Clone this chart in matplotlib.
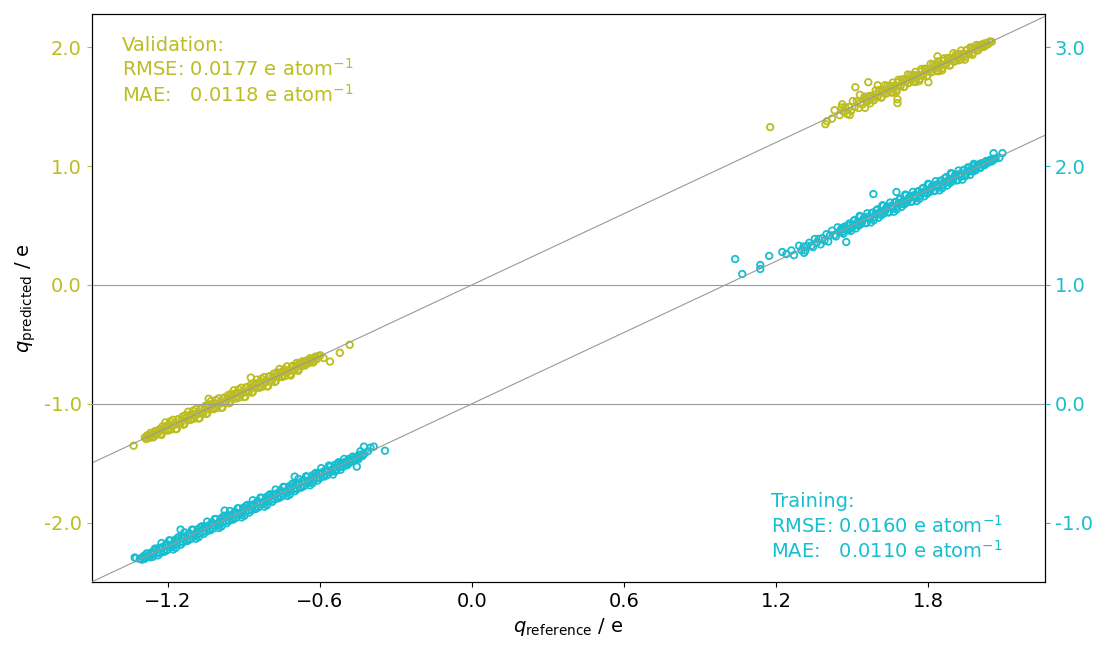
import matplotlib
matplotlib.use("Agg")
import matplotlib.pyplot as plt

OLIVE = '#bcbd22'
CYAN = '#17becf'

# validation set, negative charges (left axis)
val_low_ref = [-1.290, -1.285, -1.280, -1.272, -1.266, -1.258, -1.250, -1.243, -1.236, -1.228,
               -1.220, -1.213, -1.205, -1.198, -1.190, -1.183, -1.175, -1.168, -1.160, -1.152,
               -1.145, -1.138, -1.130, -1.122, -1.115, -1.108, -1.100, -1.092, -1.085, -1.078,
               -1.070, -1.062, -1.055, -1.048, -1.040, -1.032, -1.025, -1.018, -1.010, -1.002,
               -0.995, -0.988, -0.980, -0.972, -0.965, -0.958, -0.950, -0.942, -0.935, -0.928,
               -0.920, -0.912, -0.905, -0.898, -0.890, -0.882, -0.875, -0.868, -0.860, -0.852,
               -0.845, -0.838, -0.830, -0.822, -0.815, -0.808, -0.800, -0.792, -0.785, -0.778,
               -0.770, -0.762, -0.755, -0.748, -0.740, -0.732, -0.725, -0.718, -0.710, -0.702,
               -0.695, -0.688, -0.680, -0.672, -0.665, -0.658, -0.650, -0.642, -0.635, -0.628,
               -0.620, -0.612, -0.605,
               -1.334, -0.598, -0.585, -0.560, -0.521, -0.482, -1.038, -0.872]
val_low_pred = [-1.285, -1.297, -1.265, -1.276, -1.264, -1.283, -1.230, -1.258, -1.225, -1.258,
                -1.190, -1.227, -1.187, -1.225, -1.149, -1.191, -1.172, -1.214, -1.131, -1.171,
                -1.134, -1.176, -1.096, -1.136, -1.097, -1.135, -1.059, -1.100, -1.082, -1.124,
                -1.041, -1.081, -1.044, -1.086, -1.006, -1.046, -1.007, -1.045, -0.969, -1.010,
                -0.992, -1.034, -0.951, -0.991, -0.954, -0.996, -0.916, -0.956, -0.917, -0.955,
                -0.879, -0.920, -0.902, -0.944, -0.861, -0.901, -0.864, -0.906, -0.826, -0.866,
                -0.827, -0.865, -0.789, -0.830, -0.812, -0.854, -0.771, -0.811, -0.774, -0.816,
                -0.736, -0.776, -0.737, -0.775, -0.710, -0.740, -0.722, -0.753, -0.688, -0.721,
                -0.684, -0.718, -0.660, -0.686, -0.653, -0.678, -0.635, -0.650, -0.632, -0.653,
                -0.610, -0.624, -0.600,
                -1.353, -0.592, -0.615, -0.645, -0.571, -0.504, -0.958, -0.780]
val_low_ref2 = [-1.282, -1.274, -1.268, -1.261, -1.254, -1.246, -1.239, -1.232, -1.224, -1.217,
                -1.209, -1.201, -1.194, -1.187, -1.179, -1.171, -1.164, -1.156, -1.149, -1.141,
                -1.134, -1.126, -1.119, -1.111, -1.104, -1.096, -1.089, -1.081, -1.074, -1.066,
                -1.059, -1.051, -1.044, -1.036, -1.029, -1.021, -1.014, -1.006, -0.999, -0.991,
                -0.984, -0.976, -0.969, -0.961, -0.954, -0.946, -0.939, -0.931, -0.924, -0.916,
                -0.909, -0.901, -0.894, -0.886, -0.879, -0.871, -0.864, -0.856, -0.849, -0.841,
                -0.834, -0.826, -0.819, -0.811, -0.804, -0.796, -0.789, -0.781, -0.774, -0.766,
                -0.759, -0.751, -0.744, -0.736, -0.729, -0.721, -0.714, -0.706, -0.699, -0.691,
                -0.684, -0.676, -0.669, -0.661, -0.654, -0.646, -0.639, -0.631, -0.624, -0.616]
val_low_pred2 = [-1.274, -1.289, -1.246, -1.264, -1.278, -1.233, -1.248, -1.215, -1.262, -1.209,
                 -1.157, -1.223, -1.178, -1.217, -1.135, -1.177, -1.212, -1.130, -1.167, -1.107,
                 -1.172, -1.118, -1.067, -1.133, -1.088, -1.126, -1.045, -1.087, -1.122, -1.040,
                 -1.077, -1.017, -1.082, -1.028, -0.977, -1.043, -0.998, -1.036, -0.955, -0.997,
                 -1.032, -0.950, -0.987, -0.927, -0.992, -0.938, -0.887, -0.953, -0.908, -0.946,
                 -0.865, -0.907, -0.942, -0.860, -0.897, -0.837, -0.902, -0.848, -0.797, -0.863,
                 -0.818, -0.856, -0.775, -0.817, -0.852, -0.770, -0.807, -0.747, -0.812, -0.758,
                 -0.707, -0.773, -0.728, -0.766, -0.685, -0.727, -0.762, -0.680, -0.717, -0.657,
                 -0.722, -0.668, -0.643, -0.672, -0.646, -0.661, -0.617, -0.634, -0.648, -0.603]

# validation set, positive charges (left axis)
val_high_ref = [1.450, 1.458, 1.465, 1.472, 1.480, 1.488, 1.495, 1.502, 1.510, 1.518,
                1.525, 1.532, 1.540, 1.548, 1.555, 1.562, 1.570, 1.578, 1.585, 1.592,
                1.600, 1.608, 1.615, 1.622, 1.630, 1.638, 1.645, 1.652, 1.660, 1.668,
                1.675, 1.682, 1.690, 1.698, 1.705, 1.712, 1.720, 1.728, 1.735, 1.742,
                1.750, 1.758, 1.765, 1.772, 1.780, 1.788, 1.795, 1.802, 1.810, 1.818,
                1.825, 1.832, 1.840, 1.848, 1.855, 1.862, 1.870, 1.878, 1.885, 1.892,
                1.900, 1.908, 1.915, 1.922, 1.930, 1.938, 1.945, 1.952, 1.960, 1.968,
                1.975, 1.982, 1.990, 1.998, 2.005, 2.012, 2.020, 2.028, 2.035, 2.042,
                2.050,
                1.176, 1.394, 1.400, 1.420, 1.430, 1.460, 1.512, 1.563, 1.678, 1.678,
                1.836, 1.800, 1.490, 1.530, 1.550, 1.600]
val_high_pred = [1.429, 1.494, 1.460, 1.496, 1.438, 1.497, 1.464, 1.547, 1.498, 1.545,
                 1.489, 1.534, 1.519, 1.584, 1.550, 1.586, 1.528, 1.587, 1.554, 1.637,
                 1.588, 1.635, 1.579, 1.624, 1.609, 1.674, 1.640, 1.676, 1.618, 1.677,
                 1.644, 1.727, 1.678, 1.725, 1.669, 1.714, 1.699, 1.764, 1.730, 1.766,
                 1.708, 1.767, 1.734, 1.817, 1.768, 1.815, 1.759, 1.804, 1.789, 1.854,
                 1.820, 1.856, 1.798, 1.857, 1.824, 1.907, 1.858, 1.905, 1.849, 1.894,
                 1.879, 1.938, 1.910, 1.942, 1.900, 1.947, 1.920, 1.977, 1.948, 1.988,
                 1.953, 1.984, 1.975, 2.016, 2.000, 2.024, 2.005, 2.034, 2.027, 2.047,
                 2.047,
                 1.328, 1.353, 1.378, 1.400, 1.470, 1.520, 1.664, 1.706, 1.563, 1.530,
                 1.924, 1.706, 1.430, 1.600, 1.490, 1.680]
val_high_ref2 = [1.554, 1.561, 1.569, 1.576, 1.584, 1.591, 1.599, 1.606, 1.614, 1.621,
                 1.629, 1.636, 1.644, 1.651, 1.659, 1.666, 1.674, 1.681, 1.689, 1.696,
                 1.704, 1.711, 1.719, 1.726, 1.734, 1.741, 1.749, 1.756, 1.764, 1.771,
                 1.779, 1.786, 1.794, 1.801, 1.809, 1.816, 1.824, 1.831, 1.839, 1.846,
                 1.854, 1.861, 1.869, 1.876, 1.884, 1.891, 1.899, 1.906, 1.914, 1.921,
                 1.929, 1.936, 1.944, 1.951, 1.959, 1.966, 1.974, 1.981, 1.989, 1.996,
                 2.004, 2.011, 2.019, 2.026, 2.034, 2.041]
val_high_pred2 = [1.562, 1.546, 1.591, 1.573, 1.560, 1.604, 1.581, 1.640, 1.576, 1.629,
                  1.681, 1.614, 1.660, 1.621, 1.703, 1.660, 1.626, 1.707, 1.671, 1.730,
                  1.666, 1.719, 1.771, 1.704, 1.750, 1.711, 1.793, 1.750, 1.716, 1.797,
                  1.761, 1.820, 1.756, 1.809, 1.861, 1.794, 1.840, 1.801, 1.883, 1.840,
                  1.806, 1.887, 1.851, 1.910, 1.846, 1.899, 1.951, 1.884, 1.930, 1.891,
                  1.973, 1.930, 1.896, 1.977, 1.941, 2.000, 1.936, 1.989, 2.019, 1.974,
                  2.012, 2.001, 2.031, 2.023, 2.024, 2.047]

# training set, negative charges (right axis)
trn_low_ref = [-1.310, -1.302, -1.295, -1.288, -1.280, -1.272, -1.265, -1.258, -1.250, -1.242,
               -1.235, -1.228, -1.220, -1.212, -1.205, -1.198, -1.190, -1.182, -1.175, -1.168,
               -1.160, -1.152, -1.145, -1.138, -1.130, -1.122, -1.115, -1.108, -1.100, -1.092,
               -1.085, -1.078, -1.070, -1.062, -1.055, -1.048, -1.040, -1.032, -1.025, -1.018,
               -1.010, -1.002, -0.995, -0.988, -0.980, -0.972, -0.965, -0.958, -0.950, -0.942,
               -0.935, -0.928, -0.920, -0.912, -0.905, -0.898, -0.890, -0.882, -0.875, -0.868,
               -0.860, -0.852, -0.845, -0.838, -0.830, -0.822, -0.815, -0.808, -0.800, -0.792,
               -0.785, -0.778, -0.770, -0.762, -0.755, -0.748, -0.740, -0.732, -0.725, -0.718,
               -0.710, -0.702, -0.695, -0.688, -0.680, -0.672, -0.665, -0.658, -0.650, -0.642,
               -0.635, -0.628, -0.620, -0.612, -0.605, -0.598, -0.590, -0.582, -0.575, -0.568,
               -0.560, -0.552, -0.545, -0.538, -0.530, -0.522, -0.515, -0.508, -0.500, -0.492,
               -0.485, -0.478, -0.470, -0.462, -0.455, -0.448, -0.440, -0.432, -0.425,
               -1.330, -1.325, -0.426, -0.387, -0.454, -0.699, -1.149, -0.975, -0.410, -0.343,
               -0.400, -0.440]
trn_low_pred = [-1.305, -1.312, -1.283, -1.295, -1.260, -1.287, -1.261, -1.288, -1.219, -1.258,
                -1.214, -1.256, -1.206, -1.245, -1.179, -1.205, -1.151, -1.204, -1.171, -1.213,
                -1.129, -1.168, -1.124, -1.166, -1.116, -1.155, -1.089, -1.115, -1.061, -1.114,
                -1.081, -1.123, -1.039, -1.078, -1.034, -1.076, -1.026, -1.065, -0.999, -1.025,
                -0.971, -1.024, -0.991, -1.033, -0.949, -0.988, -0.944, -0.986, -0.936, -0.975,
                -0.909, -0.935, -0.881, -0.934, -0.901, -0.943, -0.859, -0.898, -0.854, -0.896,
                -0.846, -0.885, -0.819, -0.845, -0.791, -0.844, -0.811, -0.853, -0.769, -0.808,
                -0.764, -0.806, -0.756, -0.795, -0.729, -0.755, -0.701, -0.754, -0.721, -0.763,
                -0.679, -0.718, -0.674, -0.716, -0.666, -0.705, -0.639, -0.665, -0.615, -0.664,
                -0.631, -0.668, -0.592, -0.628, -0.584, -0.623, -0.576, -0.612, -0.553, -0.575,
                -0.530, -0.572, -0.541, -0.568, -0.505, -0.536, -0.497, -0.530, -0.490, -0.517,
                -0.465, -0.483, -0.445, -0.477, -0.452, -0.468, -0.428, -0.440, -0.420,
                -1.294, -1.300, -0.361, -0.361, -0.529, -0.613, -1.059, -0.899, -0.400, -0.395,
                -0.370, -0.400]
trn_low_ref2 = [-1.298, -1.291, -1.284, -1.276, -1.268, -1.261, -1.254, -1.246, -1.238, -1.231,
                -1.224, -1.216, -1.208, -1.201, -1.194, -1.186, -1.178, -1.171, -1.164, -1.156,
                -1.148, -1.141, -1.134, -1.126, -1.118, -1.111, -1.104, -1.096, -1.088, -1.081,
                -1.074, -1.066, -1.058, -1.051, -1.044, -1.036, -1.028, -1.021, -1.014, -1.006,
                -0.998, -0.991, -0.984, -0.976, -0.968, -0.961, -0.954, -0.946, -0.938, -0.931,
                -0.924, -0.916, -0.908, -0.901, -0.894, -0.886, -0.878, -0.871, -0.864, -0.856,
                -0.848, -0.841, -0.834, -0.826, -0.818, -0.811, -0.804, -0.796, -0.788, -0.781,
                -0.774, -0.766, -0.758, -0.751, -0.744, -0.736, -0.728, -0.721, -0.714, -0.706,
                -0.698, -0.691, -0.684, -0.676, -0.668, -0.661, -0.654, -0.646, -0.638, -0.631,
                -0.624, -0.616, -0.608, -0.601, -0.594, -0.586, -0.578, -0.571, -0.564, -0.556,
                -0.548, -0.541, -0.534, -0.526, -0.518, -0.511, -0.504, -0.496, -0.488, -0.481,
                -0.474, -0.466, -0.458, -0.451, -0.444]
trn_low_pred2 = [-1.290, -1.306, -1.262, -1.279, -1.292, -1.248, -1.263, -1.229, -1.276, -1.223,
                 -1.172, -1.238, -1.192, -1.231, -1.150, -1.192, -1.226, -1.145, -1.182, -1.122,
                 -1.186, -1.133, -1.082, -1.148, -1.102, -1.141, -1.060, -1.102, -1.136, -1.055,
                 -1.092, -1.032, -1.096, -1.043, -0.992, -1.058, -1.012, -1.051, -0.970, -1.012,
                 -1.046, -0.965, -1.002, -0.942, -1.006, -0.953, -0.902, -0.968, -0.922, -0.961,
                 -0.880, -0.922, -0.956, -0.875, -0.912, -0.852, -0.916, -0.863, -0.812, -0.878,
                 -0.832, -0.871, -0.790, -0.832, -0.866, -0.785, -0.822, -0.762, -0.826, -0.773,
                 -0.722, -0.788, -0.742, -0.781, -0.700, -0.742, -0.776, -0.695, -0.732, -0.672,
                 -0.736, -0.683, -0.632, -0.698, -0.652, -0.691, -0.610, -0.652, -0.686, -0.605,
                 -0.642, -0.582, -0.646, -0.593, -0.542, -0.608, -0.562, -0.601, -0.520, -0.562,
                 -0.596, -0.515, -0.552, -0.492, -0.556, -0.503, -0.464, -0.507, -0.480, -0.496,
                 -0.456, -0.469, -0.473, -0.441, -0.449]

# training set, positive charges (right axis)
trn_high_ref = [1.300, 1.308, 1.315, 1.322, 1.330, 1.338, 1.345, 1.352, 1.360, 1.368,
                1.375, 1.382, 1.390, 1.398, 1.405, 1.412, 1.420, 1.428, 1.435, 1.442,
                1.450, 1.458, 1.465, 1.472, 1.480, 1.488, 1.495, 1.502, 1.510, 1.518,
                1.525, 1.532, 1.540, 1.548, 1.555, 1.562, 1.570, 1.578, 1.585, 1.592,
                1.600, 1.608, 1.615, 1.622, 1.630, 1.638, 1.645, 1.652, 1.660, 1.668,
                1.675, 1.682, 1.690, 1.698, 1.705, 1.712, 1.720, 1.728, 1.735, 1.742,
                1.750, 1.758, 1.765, 1.772, 1.780, 1.788, 1.795, 1.802, 1.810, 1.818,
                1.825, 1.832, 1.840, 1.848, 1.855, 1.862, 1.870, 1.878, 1.885, 1.892,
                1.900, 1.908, 1.915, 1.922, 1.930, 1.938, 1.945, 1.952, 1.960, 1.968,
                1.975, 1.982, 1.990, 1.998, 2.005, 2.012, 2.020, 2.028, 2.035, 2.042,
                2.050, 2.058, 2.065,
                1.038, 1.066, 1.137, 1.137, 1.172, 1.224, 1.240, 1.260, 1.270, 1.476,
                1.583, 1.674, 2.057, 2.092, 2.080, 1.290, 1.310]
trn_high_pred = [1.290, 1.323, 1.290, 1.328, 1.355, 1.329, 1.318, 1.387, 1.357, 1.387,
                 1.341, 1.394, 1.372, 1.427, 1.365, 1.418, 1.457, 1.419, 1.408, 1.485,
                 1.447, 1.477, 1.431, 1.484, 1.462, 1.517, 1.455, 1.508, 1.547, 1.509,
                 1.498, 1.575, 1.537, 1.567, 1.521, 1.574, 1.552, 1.607, 1.545, 1.598,
                 1.637, 1.599, 1.588, 1.665, 1.627, 1.657, 1.611, 1.664, 1.642, 1.697,
                 1.635, 1.688, 1.727, 1.689, 1.678, 1.755, 1.717, 1.747, 1.701, 1.754,
                 1.732, 1.787, 1.725, 1.778, 1.817, 1.779, 1.768, 1.845, 1.807, 1.837,
                 1.791, 1.844, 1.822, 1.877, 1.815, 1.868, 1.907, 1.869, 1.858, 1.935,
                 1.897, 1.927, 1.881, 1.934, 1.912, 1.967, 1.915, 1.958, 1.985, 1.959,
                 1.955, 2.007, 1.987, 2.013, 1.985, 2.022, 2.008, 2.043, 2.030, 2.050,
                 2.040, 2.063, 2.062,
                 1.218, 1.092, 1.168, 1.134, 1.244, 1.277, 1.260, 1.290, 1.250, 1.361,
                 1.765, 1.782, 2.109, 2.109, 2.070, 1.330, 1.270]
trn_high_ref2 = [1.454, 1.461, 1.469, 1.476, 1.484, 1.491, 1.499, 1.506, 1.514, 1.521,
                 1.529, 1.536, 1.544, 1.551, 1.559, 1.566, 1.574, 1.581, 1.589, 1.596,
                 1.604, 1.611, 1.619, 1.626, 1.634, 1.641, 1.649, 1.656, 1.664, 1.671,
                 1.679, 1.686, 1.694, 1.701, 1.709, 1.716, 1.724, 1.731, 1.739, 1.746,
                 1.754, 1.761, 1.769, 1.776, 1.784, 1.791, 1.799, 1.806, 1.814, 1.821,
                 1.829, 1.836, 1.844, 1.851, 1.859, 1.866, 1.874, 1.881, 1.889, 1.896,
                 1.904, 1.911, 1.919, 1.926, 1.934, 1.941, 1.949, 1.956, 1.964, 1.971,
                 1.979, 1.986, 1.994, 2.001, 2.009, 2.016, 2.024, 2.031, 2.039, 2.046,
                 2.054]
trn_high_pred2 = [1.462, 1.446, 1.491, 1.473, 1.460, 1.504, 1.481, 1.540, 1.476, 1.529,
                  1.581, 1.514, 1.560, 1.521, 1.603, 1.560, 1.526, 1.607, 1.571, 1.630,
                  1.566, 1.619, 1.671, 1.604, 1.650, 1.611, 1.693, 1.650, 1.616, 1.697,
                  1.661, 1.720, 1.656, 1.709, 1.761, 1.694, 1.740, 1.701, 1.783, 1.740,
                  1.706, 1.787, 1.751, 1.810, 1.746, 1.799, 1.851, 1.784, 1.830, 1.791,
                  1.873, 1.830, 1.796, 1.877, 1.841, 1.900, 1.836, 1.889, 1.941, 1.874,
                  1.920, 1.881, 1.963, 1.920, 1.886, 1.967, 1.931, 1.990, 1.926, 1.979,
                  2.019, 1.964, 2.010, 1.986, 2.024, 2.013, 2.012, 2.041, 2.033, 2.054,
                  2.050]

val_text = 'Validation:\nRMSE: 0.0177 e atom$^{-1}$\nMAE:   0.0118 e atom$^{-1}$'
trn_text = 'Training:\nRMSE: 0.0160 e atom$^{-1}$\nMAE:   0.0110 e atom$^{-1}$'

xlim = (-1.5, 2.26)
left_ticks = [-2.0, -1.0, 0.0, 1.0, 2.0]
right_ticks = [-1.0, 0.0, 1.0, 2.0, 3.0]
x_ticks = [-1.2, -0.6, 0.0, 0.6, 1.2, 1.8]

plt.rcParams['font.size'] = 14
fig = plt.figure(figsize=(10.99, 6.46), dpi=100)
ax = fig.add_axes([0.0833, 0.0991, 0.8676, 0.8792])
ax2 = ax.twinx()

val_x = val_low_ref + val_low_ref2 + val_high_ref + val_high_ref2
val_y = val_low_pred + val_low_pred2 + val_high_pred + val_high_pred2
trn_x = trn_low_ref + trn_low_ref2 + trn_high_ref + trn_high_ref2
trn_y = trn_low_pred + trn_low_pred2 + trn_high_pred + trn_high_pred2

mk = dict(s=22, facecolors='none', linewidths=1.3)
ax.scatter(val_x, val_y, edgecolors=OLIVE, zorder=2, **mk)
ax2.scatter(trn_x, trn_y, edgecolors=CYAN, zorder=2, **mk)

for a in (ax, ax2):
    a.plot(xlim, xlim, color='#999999', lw=0.8, zorder=3)
    a.axhline(0, color='#999999', lw=0.8, zorder=3)

ax.set_xlim(*xlim)
ax.set_ylim(-2.5, 2.28)
ax2.set_ylim(-1.5, 3.28)

ax.set_xticks(x_ticks)
ax.set_yticks(left_ticks)
ax.set_yticklabels(['%.1f' % v for v in left_ticks])
ax2.set_yticks(right_ticks)
ax2.set_yticklabels(['%.1f' % v for v in right_ticks])
ax.tick_params(axis='y', colors=OLIVE, labelsize=14)
ax2.tick_params(axis='y', colors=CYAN, labelsize=14)
ax.tick_params(axis='x', labelsize=14)

ax.set_xlabel(r'$q_\mathrm{reference}$ / e', fontsize=14)
ax.set_ylabel(r'$q_\mathrm{predicted}$ / e', fontsize=14)

ax.text(0.032, 0.962, val_text, transform=ax.transAxes, color=OLIVE,
        fontsize=14, va='top', ha='left', linespacing=1.2)
ax2.text(0.7126, 0.158, trn_text, transform=ax.transAxes, color=CYAN,
         fontsize=14, va='top', ha='left', linespacing=1.2)

fig.savefig('out.png', dpi=100)
